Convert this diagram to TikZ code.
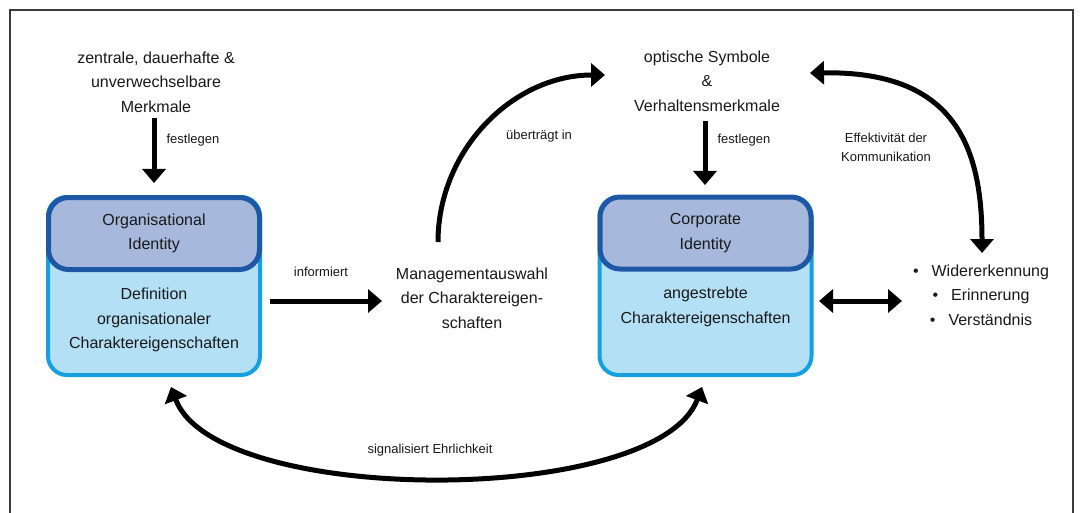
\documentclass[tikz,border=0pt]{standalone}
\usepackage{fontspec}
\setmainfont{Liberation Sans}
\usetikzlibrary{arrows.meta}
\definecolor{idfill}{RGB}{166,184,220}
\definecolor{idline}{RGB}{30,88,165}
\definecolor{charfill}{RGB}{180,224,246}
\definecolor{charline}{RGB}{22,160,226}
\definecolor{framegray}{RGB}{60,60,60}
\definecolor{ink}{RGB}{25,25,25}
\begin{document}
\begin{tikzpicture}[x=1pt,y=-1pt,
  txt/.style={align=center,font=\fontsize{16}{24.5}\selectfont,inner sep=0pt,text=ink},
  lbl/.style={align=center,font=\fontsize{13}{19}\selectfont,inner sep=0pt,text=ink},
  outerbox/.style={draw=charline,fill=charfill,line width=4pt,rounded corners=19pt,
    minimum width=212pt,minimum height=178pt,inner sep=0pt},
  headbox/.style={draw=idline,fill=idfill,line width=5pt,rounded corners=20pt,
    minimum width=211pt,minimum height=72pt,inner sep=0pt,align=center,text=ink,
    font=\fontsize{16}{24.5}\selectfont},
  arr/.style={line width=5pt,-{Triangle[width=23pt,length=14pt]}},
  darr/.style={line width=5pt,{Triangle[width=23pt,length=14pt]}-{Triangle[width=23pt,length=14pt]}},
]
% page and outer frame
\useasboundingbox (0,0) rectangle (1083,513);
\fill[white] (0,0) rectangle (1083,513);
\begin{scope}
  \clip (0,0) rectangle (1083,513);
  \draw[framegray,line width=1.3pt] (10,530) -- (10,10) -- (1073,10) -- (1073,530);
\end{scope}

% left column
\node[txt] (merk) at (156,82) {zentrale, dauerhafte \&\\unverwechselbare\\Merkmale};
\node[outerbox] (orgbox) at (154,286) {};
\node[headbox] (orghead) at (154,233.5) {Organisational\\Identity};
\node[txt] (orgdef) at (154,320) {Definition\\organisationaler\\Charaktereigenschaften};

% middle column
\node[txt] (mgmt) at (472,298) {Managementauswahl\\der Charaktereigen-\\schaften};
\node[txt] (optsym) at (707,81) {optische Symbole\\\&\\Verhaltensmerkmale};

% right box
\node[outerbox] (corpbox) at (705.5,286) {};
\node[headbox] (corphead) at (705.5,233) {Corporate\\Identity};
\node[txt] (corpdef) at (705.5,307) {angestrebte\\Charaktereigenschaften};

% effects list
\node[txt] (effects) at (981,295) {•\hspace{13pt}Widererkennung\\•\hspace{13pt}Erinnerung\\•\hspace{13pt}Verständnis};

% connector end points
\coordinate (merkS) at (154,118);
\coordinate (orgN) at (154,183);
\coordinate (orgE) at (270,301);
\coordinate (mgmtW) at (382,301);
\coordinate (mgmtN) at (438,242);
\coordinate (optW) at (605,75);
\coordinate (optS) at (705,121);
\coordinate (corpN) at (705,185);
\coordinate (optE) at (810,73);
\coordinate (effN) at (982,253);
\coordinate (corpE) at (819,301);
\coordinate (effW) at (902,301);
\coordinate (orgS) at (171,387);
\coordinate (corpS) at (702,387);

% connectors
\draw[arr] (merkS) -- (orgN);
\node[lbl] (l1) at (193,140) {festlegen};
\draw[arr] (orgE) -- (mgmtW);
\node[lbl] (l2) at (321,272) {informiert};
\draw[arr] (mgmtN) .. controls (438,150) and (513,75) .. (optW);
\node[lbl] (l3) at (539,136) {überträgt in};
\draw[arr] (optS) -- (corpN);
\node[lbl] (l4) at (744,140) {festlegen};
\draw[darr] (optE) .. controls (952,71) and (982,143) .. (effN);
\node[lbl] (l5) at (886,147) {Effektivität der\\Kommunikation};
\draw[darr] (corpE) -- (effW);
\draw[darr] (orgS) .. controls (216,507) and (657,507) .. (corpS);
\node[lbl] (l6) at (430,450) {signalisiert Ehrlichkeit};
\end{tikzpicture}
\end{document}
